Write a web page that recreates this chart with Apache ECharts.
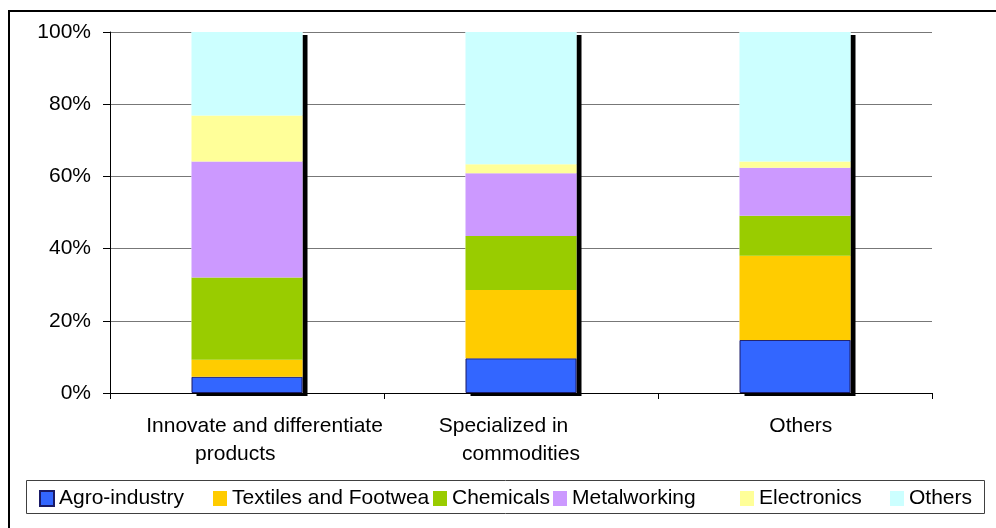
<!DOCTYPE html>
<html>
<head>
<meta charset="utf-8">
<script src="https://cdn.jsdelivr.net/npm/echarts@6/dist/echarts.min.js"></script>
<style>
html,body{margin:0;padding:0;background:#fff;}
#chart{width:996px;height:528px;}
</style>
</head>
<body>
<div id="chart"></div>
<script>
const categories = ['      Innovate and differentiate\nproducts    ', 'Specialized in      \ncommodities', '  Others'];
const seriesNames = ['Agro-industry', 'Textiles and Footwear', 'Chemicals', 'Metalworking', 'Electronics', 'Others'];
const agro = [4.5, 9.6, 14.7];
const textiles = [4.7, 18.9, 23.3];
const chemicals = [22.8, 15.0, 11.1];
const metalworking = [32.1, 17.4, 13.3];
const electronics = [12.8, 2.5, 1.7];
const others = [23.1, 36.6, 35.9];
const yTicks = [0, 20, 40, 60, 80, 100];

const values = [agro, textiles, chemicals, metalworking, electronics, others];
const colors = ['#3366FF', '#FFCC00', '#99CC00', '#CC99FF', '#FFFF99', '#CCFFFF'];
const totals = categories.map((c, i) => values.reduce((s, arr) => s + arr[i], 0));

const font = 'Liberation Sans, Arial, sans-serif';
const chart = echarts.init(document.getElementById('chart'), null, {renderer: 'canvas'});

const series = [{
  name: '__shadow',
  type: 'bar',
  data: totals,
  barWidth: 111,
  barGap: '-100%',
  z: 1,
  silent: true,
  itemStyle: {color: '#ffffff', shadowColor: '#000000', shadowBlur: 0, shadowOffsetX: 5, shadowOffsetY: 3}
}];
values.forEach((arr, k) => {
  series.push({
    name: seriesNames[k],
    type: 'bar',
    stack: 'total',
    data: arr,
    barWidth: 111,
    barGap: '-100%',
    z: 2,
    itemStyle: k === 0
      ? {color: colors[k], borderColor: '#1a1a66', borderWidth: 1}
      : {color: colors[k]}
  });
});

const legendLefts = [39, 213, 433, 553, 740, 890];
const legends = seriesNames.map((n, k) => ({
  data: [n],
  left: legendLefts[k],
  top: 488,
  padding: 0,
  itemWidth: 14,
  itemHeight: 15,
  itemGap: 0,
  icon: 'rect',
  selectedMode: false,
  z: 4 + k,
  textStyle: k === 1
    ? {fontFamily: font, fontSize: 21, color: '#000', width: 203, overflow: 'truncate', ellipsis: ''}
    : {fontFamily: font, fontSize: 21, color: '#000'}
}));

chart.setOption({
  animation: false,
  backgroundColor: '#fff',
  color: colors,
  graphic: [
    {type: 'rect', shape: {x: 9, y: 11, width: 1100, height: 600}, style: {fill: 'none', stroke: '#000', lineWidth: 2}, z: 0},
    {type: 'rect', shape: {x: 26.5, y: 480.5, width: 958, height: 33}, style: {fill: '#fff', stroke: '#404040', lineWidth: 1}, z: -1}
  ],
  legend: legends,
  grid: {left: 110, right: 64, top: 32, bottom: 135, outerBoundsMode: 'none', containLabel: false},
  xAxis: {
    type: 'category',
    data: categories,
    axisLine: {lineStyle: {color: '#000', width: 1}},
    axisTick: {show: true, length: 6, lineStyle: {color: '#000'}},
    axisLabel: {fontFamily: font, fontSize: 21, color: '#000', lineHeight: 28, margin: 19, interval: 0}
  },
  yAxis: {
    type: 'value',
    min: 0,
    max: 100,
    interval: 20,
    axisLine: {show: true, lineStyle: {color: '#000', width: 1}},
    axisTick: {show: true, length: 7, lineStyle: {color: '#000'}},
    axisLabel: {fontFamily: font, fontSize: 21, color: '#000', margin: 19, formatter: v => yTicks.includes(v) ? v + '%' : ''},
    splitLine: {show: true, lineStyle: {color: '#777', width: 1}}
  },
  series: series
});
</script>
</body>
</html>
